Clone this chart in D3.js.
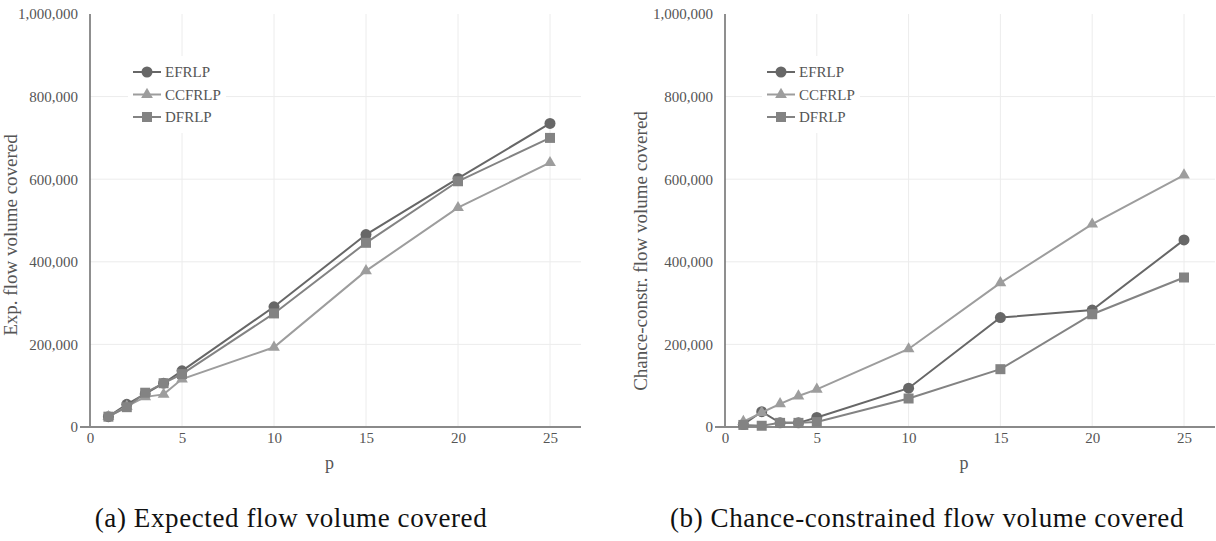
<!DOCTYPE html>
<html>
<head>
<meta charset="utf-8">
<script src="https://cdn.jsdelivr.net/npm/d3@7"></script>
<style>
  body { margin: 0; background: #fff; }
</style>
</head>
<body>
<div id="main"></div>
<script>
// data
const pValues = [1, 2, 3, 4, 5, 10, 15, 20, 25];
const seriesNames = ["EFRLP", "CCFRLP", "DFRLP"];

const expEFRLP  = [25000, 55000, 80000, 106000, 136000, 291000, 466000, 602000, 735000];
const expCCFRLP = [25000, 50000, 73000, 79000, 116000, 193000, 378000, 531000, 640000];
const expDFRLP  = [25000, 48000, 83000, 106000, 128000, 275000, 446000, 595000, 700000];

const ccEFRLP  = [6000, 37000, 10000, 10000, 23000, 94000, 265000, 283000, 453000];
const ccCCFRLP = [13000, 35000, 56000, 75000, 91000, 189000, 349000, 491000, 610000];
const ccDFRLP  = [5000, 3000, 10000, 10000, 12000, 69000, 140000, 273000, 362000];

const xTicks = [0, 5, 10, 15, 20, 25];
const yTicks = [0, 200000, 400000, 600000, 800000, 1000000];

const colors = ["#676767", "#9d9d9d", "#838383"];
const symbols = [d3.symbolCircle, d3.symbolTriangle, d3.symbolSquare];
const symSizes = [95, 60, 100];

const FONT = "Liberation Serif";
const W = 1216, H = 541;
const svg = d3.select("#main").append("svg")
    .attr("width", W).attr("height", H)
    .attr("font-family", FONT);

function drawPanel(opt) {
    const xScale = d3.scaleLinear().domain([0, 25]).range([opt.x0, opt.x25]);
    const yScale = d3.scaleLinear().domain([0, 1000000]).range([427, 14]);
    const xEnd = opt.xEnd;
    const g = svg.append("g");

    // grid
    g.selectAll(".hgrid").data(yTicks.slice(1, -1)).enter().append("line")
        .attr("x1", opt.x0).attr("x2", xEnd)
        .attr("y1", d => yScale(d)).attr("y2", d => yScale(d))
        .attr("stroke", "#ececec").attr("stroke-width", 1);
    g.selectAll(".vgrid").data(xTicks.slice(1)).enter().append("line")
        .attr("x1", d => xScale(d)).attr("x2", d => xScale(d))
        .attr("y1", yScale(1000000)).attr("y2", yScale(0))
        .attr("stroke", "#ececec").attr("stroke-width", 1);

    // axes
    const yAxis = d3.axisLeft(yScale).tickValues(yTicks).tickFormat(d3.format(",")).tickSize(0).tickPadding(12);
    const gy = g.append("g").attr("transform", "translate(" + opt.x0 + ",0)").call(yAxis)
        .attr("font-family", FONT).attr("font-size", 15);
    gy.select(".domain").remove();
    gy.selectAll("text").attr("fill", "#555");

    const xAxis = d3.axisBottom(xScale).tickValues(xTicks).tickSize(0).tickPadding(5);
    const gx = g.append("g").attr("transform", "translate(0,427)").call(xAxis)
        .attr("font-family", FONT).attr("font-size", 15);
    gx.select(".domain").remove();
    gx.selectAll("text").attr("fill", "#555");

    g.append("line").attr("x1", opt.x0).attr("x2", opt.x0)
        .attr("y1", yScale(1000000)).attr("y2", yScale(0))
        .attr("stroke", "#6a6a6a").attr("stroke-width", 1.5);
    g.append("line").attr("x1", opt.x0 - 10).attr("x2", xEnd)
        .attr("y1", yScale(0)).attr("y2", yScale(0))
        .attr("stroke", "#8a8a8a").attr("stroke-width", 2);

    // axis titles
    g.append("text")
        .attr("transform", "translate(" + opt.yLabelX + "," + opt.yLabelY + ") rotate(-90)")
        .attr("text-anchor", "middle").attr("font-size", 19).attr("fill", "#555")
        .text(opt.yLabel);
    g.append("text")
        .attr("x", (opt.x0 + xEnd) / 2 - 6).attr("y", 469)
        .attr("text-anchor", "middle").attr("font-size", 18).attr("fill", "#555")
        .text("p");

    // lines and markers
    const line = d3.line().x((d, i) => xScale(pValues[i])).y(d => yScale(d));
    opt.series.forEach(function (vals, s) {
        g.append("path").datum(vals)
            .attr("d", line)
            .attr("fill", "none")
            .attr("stroke", colors[s]).attr("stroke-width", 2);
        g.selectAll(".m" + s).data(vals).enter().append("path")
            .attr("transform", (d, i) => "translate(" + xScale(pValues[i]) + "," + yScale(d) + ")")
            .attr("d", d3.symbol().type(symbols[s]).size(symSizes[s]))
            .attr("fill", colors[s]);
    });

    // legend
    const lg = g.append("g").attr("transform", "translate(" + opt.legX + ",0)");
    lg.append("rect").attr("x", -5).attr("y", 56).attr("width", 98).attr("height", 77).attr("fill", "#fff");
    seriesNames.forEach(function (name, s) {
        const y = 72 + s * 22.5;
        lg.append("line").attr("x1", 0).attr("x2", 28).attr("y1", y).attr("y2", y)
            .attr("stroke", colors[s]).attr("stroke-width", 2);
        lg.append("path").attr("transform", "translate(14," + y + ")")
            .attr("d", d3.symbol().type(symbols[s]).size(symSizes[s]))
            .attr("fill", colors[s]);
        lg.append("text").attr("x", 32).attr("y", y + 5)
            .attr("font-size", 15).attr("fill", "#555").text(name);
    });

    // caption
    svg.append("text")
        .attr("x", opt.capX).attr("y", 527)
        .attr("text-anchor", "middle").attr("font-size", 27).attr("fill", "#111")
        .attr("letter-spacing", 0.6)
        .text(opt.caption);
}

drawPanel({
    x0: 90, x25: 550, xEnd: 581, yLabelX: 17, yLabelY: 235, legX: 133,
    yLabel: "Exp. flow volume covered",
    series: [expEFRLP, expCCFRLP, expDFRLP],
    capX: 291, caption: "(a) Expected flow volume covered"
});

drawPanel({
    x0: 725, x25: 1184, xEnd: 1215, yLabelX: 647, yLabelY: 251, legX: 767,
    yLabel: "Chance-constr. flow volume covered",
    series: [ccEFRLP, ccCCFRLP, ccDFRLP],
    capX: 927, caption: "(b) Chance-constrained flow volume covered"
});
</script>
</body>
</html>
